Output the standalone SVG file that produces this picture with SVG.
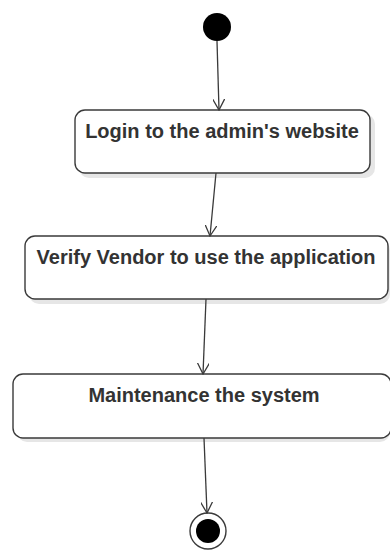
<svg xmlns="http://www.w3.org/2000/svg" width="390" height="557" viewBox="0 0 390 557">
<defs>
<style>
.box{fill:#ffffff;stroke:#3a3a3a;stroke-width:1.4}
.shadow{fill:#e6e6e6}
.lbl{font-family:"Liberation Sans",Arial,sans-serif;font-weight:bold;font-size:20px;fill:#333333;text-anchor:middle}
.edge{stroke:#3a3a3a;stroke-width:1.3;fill:none}
</style>
<marker id="open" viewBox="0 0 12 12" refX="11" refY="6" markerWidth="12" markerHeight="12" markerUnits="userSpaceOnUse" orient="auto">
<path d="M0,0 L11,6 L0,12" fill="none" stroke="#3a3a3a" stroke-width="1.3"/>
</marker>
</defs>
<rect width="390" height="557" fill="#ffffff"/>
<g id="start">
<circle cx="217" cy="27" r="14" fill="#000000"/>
</g>
<g id="n1">
<rect class="shadow" x="79" y="114" width="296" height="64" rx="10"/>
<rect class="box" x="75" y="110" width="295" height="63" rx="10"/>
<text class="lbl" x="222" y="138">Login to the admin's website</text>
</g>
<g id="n2">
<rect class="shadow" x="29" y="240" width="361" height="64" rx="10"/>
<rect class="box" x="25" y="236" width="363" height="63" rx="10"/>
<text class="lbl" x="206" y="264">Verify Vendor to use the application</text>
</g>
<g id="n3">
<rect class="shadow" x="17" y="378" width="373" height="64" rx="10"/>
<rect class="box" x="13" y="374" width="378" height="64" rx="10"/>
<text class="lbl" x="204" y="402">Maintenance the system</text>
</g>
<g id="end">
<circle cx="208" cy="531" r="18" fill="#ffffff" stroke="#3a3a3a" stroke-width="1.4"/>
<circle cx="208" cy="531" r="12" fill="#000000"/>
</g>
<g id="connectors">
<line class="edge" x1="217" y1="41" x2="219" y2="110" marker-end="url(#open)"/>
<line class="edge" x1="216" y1="173" x2="210" y2="236" marker-end="url(#open)"/>
<line class="edge" x1="206" y1="299" x2="203" y2="374" marker-end="url(#open)"/>
<line class="edge" x1="204" y1="438" x2="207" y2="513" marker-end="url(#open)"/>
</g>
</svg>
